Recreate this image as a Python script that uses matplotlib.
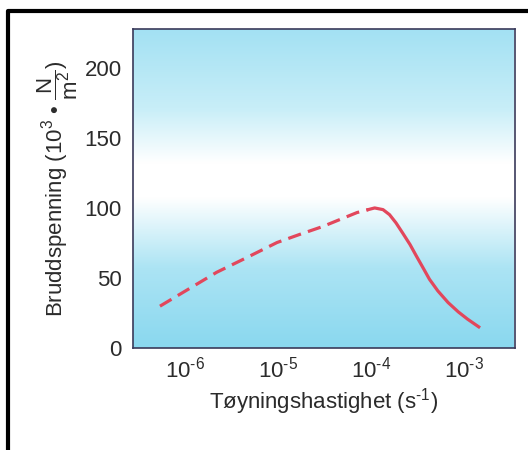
import numpy as np
import matplotlib
matplotlib.use("Agg")
import matplotlib.pyplot as plt
from matplotlib.colors import LinearSegmentedColormap
from matplotlib.lines import Line2D

plt.rcParams['font.family'] = ['Liberation Sans', 'DejaVu Sans']
plt.rcParams['mathtext.fontset'] = 'custom'
plt.rcParams['mathtext.rm'] = 'Liberation Sans'
plt.rcParams['mathtext.it'] = 'Liberation Sans'

# strain rate exponent (log10 s^-1) and fracture stress (10^3 N/m^2)
lograte_dashed = [-6.27, -5.66, -5.34, -5.01, -4.77, -4.52, -4.15, -4.03]
stress_dashed = [29.9, 54.1, 64.5, 75.4, 81.1, 86.8, 96.8, 98.9]
lograte_solid = [-4.03, -3.96, -3.87, -3.80, -3.73, -3.66, -3.58, -3.51,
                 -3.44, -3.37, -3.28, -3.17, -3.06, -2.96, -2.84]
stress_solid = [98.9, 100.1, 98.9, 95.3, 89.4, 82.3, 74.0, 65.6,
                57.4, 49.1, 40.8, 32.5, 25.8, 20.6, 15.1]

xtick_exp = [-6, -5, -4, -3]
yticks = [0, 50, 100, 150, 200]

text_col = '#2b2b2b'
line_col = '#e2475c'

fig = plt.figure(figsize=(5.28, 4.5), dpi=100)
ax = fig.add_axes([133/528, 1 - 348/450, 382/528, 319/450])

xmin, xmax = 10**-6.56, 10**-2.45
ymin, ymax = 0, 228

# cyan -> white -> cyan background band
cmap = LinearSegmentedColormap.from_list(
    'bg', [(0.0, '#8ad8ef'), (0.25, '#ace4f4'), (0.47, '#ffffff'),
           (0.58, '#ffffff'), (0.75, '#c8eef8'), (1.0, '#a3e1f3')])
grad = np.linspace(0, 1, 256).reshape(-1, 1)
ax.imshow(grad, aspect='auto', cmap=cmap, origin='lower',
          extent=(xmin, xmax, ymin, ymax), zorder=0)

ax.plot([10**v for v in lograte_dashed], stress_dashed, color=line_col, lw=2.3,
        dashes=(4.2, 2.3), solid_capstyle='butt', zorder=3)
ax.plot([10**v for v in lograte_solid], stress_solid, color=line_col, lw=2.3,
        solid_joinstyle='round', zorder=3)

ax.set_xscale('log')
ax.set_xlim(xmin, xmax)
ax.set_ylim(ymin, ymax)
ax.set_xticks([10.0**e for e in xtick_exp])
ax.set_xticklabels([r'10$^{\text{-}%d}$' % -e for e in xtick_exp])
ax.minorticks_off()
ax.set_yticks(yticks)
ax.tick_params(length=0, labelsize=16, colors=text_col, pad=6)
ax.tick_params(axis='y', pad=8)

for s in ax.spines.values():
    s.set_color('#3a3a5a')
    s.set_linewidth(1.2)

ax.set_xlabel(r'Tøyningshastighet (s$^{\text{-}1}$)', fontsize=16, color=text_col,
              labelpad=3)
ax.set_ylabel(r'Bruddspenning (10$^3$ • $\dfrac{\mathrm{N}}{\mathrm{m}^2}$)',
              fontsize=16, color=text_col, labelpad=3)

# outer frame (left and top only)
fig.add_artist(Line2D([8/528, 8/528, 1.0], [0.0, 1 - 11/450, 1 - 11/450],
                      transform=fig.transFigure, color='black', lw=3))

fig.savefig('out.png', dpi=100)
